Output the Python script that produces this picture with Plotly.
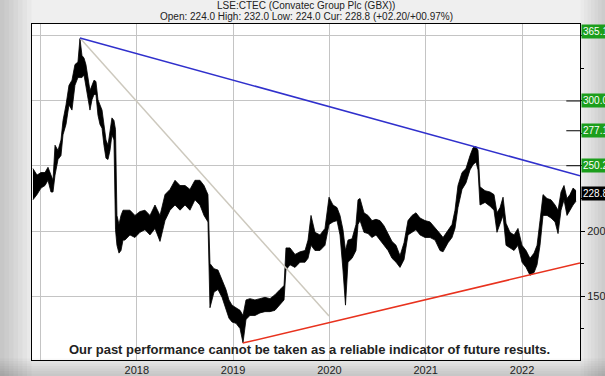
import plotly.graph_objects as go

# ---- data (decimal years, GBX) ----
t = [2016.922, 2016.964, 2017.005, 2017.047, 2017.078, 2017.109, 2017.130, 2017.151, 2017.182, 2017.213,
     2017.234, 2017.265, 2017.296, 2017.327, 2017.358, 2017.389, 2017.410, 2017.431, 2017.452, 2017.472,
     2017.493, 2017.514, 2017.535, 2017.556, 2017.576, 2017.597, 2017.618, 2017.639, 2017.659, 2017.680,
     2017.701, 2017.722, 2017.742, 2017.763, 2017.779, 2017.794, 2017.815, 2017.836, 2017.857, 2017.877,
     2017.929, 2017.981, 2018.033, 2018.085, 2018.137, 2018.189, 2018.241, 2018.293, 2018.345, 2018.397,
     2018.449, 2018.501, 2018.552, 2018.604, 2018.656, 2018.698, 2018.739, 2018.760, 2018.802, 2018.843,
     2018.885, 2018.926, 2018.957, 2018.989, 2019.030, 2019.072, 2019.103, 2019.134, 2019.175, 2019.227,
     2019.279, 2019.331, 2019.383, 2019.435, 2019.487, 2019.529, 2019.549, 2019.591, 2019.643, 2019.695,
     2019.747, 2019.778, 2019.809, 2019.850, 2019.902, 2019.954, 2019.996, 2020.037, 2020.079, 2020.110,
     2020.141, 2020.167, 2020.193, 2020.235, 2020.276, 2020.297, 2020.318, 2020.359, 2020.401, 2020.442,
     2020.484, 2020.525, 2020.567, 2020.609, 2020.650, 2020.692, 2020.733, 2020.775, 2020.816, 2020.858,
     2020.899, 2020.941, 2020.993, 2021.045, 2021.097, 2021.148, 2021.180, 2021.232, 2021.273, 2021.304,
     2021.335, 2021.377, 2021.418, 2021.460, 2021.491, 2021.522, 2021.543, 2021.564, 2021.616, 2021.668,
     2021.709, 2021.740, 2021.772, 2021.803, 2021.834, 2021.875, 2021.917, 2021.958, 2022.000, 2022.042,
     2022.083, 2022.125, 2022.156, 2022.187, 2022.218, 2022.260, 2022.301, 2022.343, 2022.374, 2022.405,
     2022.436, 2022.467, 2022.498, 2022.530, 2022.561]

high = [248, 243, 245, 245, 249, 243, 239, 266, 262, 270,
        285, 297, 312, 316, 328, 330, 348, 335, 333, 328,
        316, 308, 312, 316, 315, 301, 297, 293, 282, 270,
        266, 278, 287, 285, 278, 212, 205, 212, 216, 216,
        216, 212, 215, 216, 212, 220, 212, 228, 232, 239,
        235, 235, 232, 239, 239, 235, 228, 175, 171, 170,
        162, 155, 147, 143, 141, 139, 135, 147, 148, 147,
        148, 149, 148, 151, 155, 158, 187, 187, 182, 184,
        185, 193, 212, 199, 197, 202, 226, 220, 218, 212,
        201, 185, 193, 194, 205, 224, 225, 214, 212, 208,
        209, 208, 204, 198, 192, 189, 181, 191, 208, 212,
        214, 210, 208, 207, 202, 198, 195, 201, 205, 216,
        235, 245, 248, 258, 264, 265, 262, 234, 231, 230,
        228, 214, 218, 226, 206, 199, 197, 202, 189, 185,
        179, 183, 189, 208, 228, 225, 224, 220, 216, 230,
        235, 225, 228, 233, 231]

low = [224, 228, 233, 235, 239, 230, 230, 243, 255, 258,
       274, 282, 297, 293, 312, 318, 318, 318, 320, 312,
       301, 293, 301, 305, 305, 289, 282, 279, 266, 256,
       255, 262, 274, 270, 201, 189, 183, 185, 193, 193,
       197, 195, 199, 201, 197, 202, 192, 208, 216, 220,
       216, 220, 216, 224, 220, 212, 207, 141, 153, 155,
       149, 139, 133, 130, 129, 125, 114, 132, 135, 135,
       137, 138, 138, 139, 143, 147, 170, 174, 172, 176,
       176, 179, 189, 185, 185, 189, 205, 207, 208, 197,
       170, 143, 176, 179, 185, 205, 208, 199, 198, 195,
       197, 193, 189, 185, 179, 176, 172, 178, 197, 199,
       201, 197, 195, 195, 193, 185, 184, 191, 195, 202,
       218, 232, 237, 247, 251, 253, 247, 220, 222, 219,
       216, 199, 205, 212, 189, 187, 185, 189, 176, 172,
       166, 168, 174, 189, 212, 212, 210, 207, 198, 216,
       224, 212, 216, 220, 223]

# trend lines (start/end points)
blue_t = [2017.410, 2022.602]
blue_v = [348.5, 242.5]
grey_t = [2017.410, 2019.996]
grey_v = [348.5, 134.6]
red_t = [2019.100, 2022.602]
red_v = [113.8, 175.4]

# right-hand labels
green_labels = [365.1, 300.0, 277.1, 250.2]
current = 228.8
marker_levels = [300.0, 277.1, 250.2]

year_ticks = [2017, 2018, 2019, 2020, 2021, 2022]
year_text = ["", "2018", "2019", "2020", "2021", "2022"]
price_ticks = [150, 200, 250, 300, 350]
price_text = ["150", "200", "", "", ""]

x_range = [2016.912, 2022.602]
y_range = [100.8, 359.2]

fig = go.Figure()
fig.add_trace(go.Scatter(x=t, y=low, mode="lines", line=dict(color="black", width=0.8),
                         showlegend=False, hoverinfo="skip"))
fig.add_trace(go.Scatter(x=t, y=high, mode="lines", line=dict(color="black", width=0.8),
                         fill="tonexty", fillcolor="black", showlegend=False, hoverinfo="skip"))
fig.add_trace(go.Scatter(x=grey_t, y=grey_v, mode="lines", line=dict(color="#cdc9be", width=1.5),
                         showlegend=False))
fig.add_trace(go.Scatter(x=blue_t, y=blue_v, mode="lines", line=dict(color="#3030cc", width=1.5),
                         showlegend=False))
fig.add_trace(go.Scatter(x=red_t, y=red_v, mode="lines", line=dict(color="#e8321e", width=1.5),
                         showlegend=False))

for v in marker_levels:
    fig.add_shape(type="line", xref="x domain", yref="y", x0=0.975, x1=1.0, y0=v, y1=v,
                  line=dict(color="black", width=1))

# soft grey vignette of the page background
PW, PH = 548.0, 336.0
for i in range(1, 8):
    fig.add_shape(type="rect", xref="paper", yref="paper", layer="below", line_width=0,
                  x0=-32 / PW, x1=(-32 + i * 4.5) / PW, y0=-16 / PH, y1=1 + 24 / PH,
                  fillcolor="rgba(0,0,0,0.025)")
    fig.add_shape(type="rect", xref="paper", yref="paper", layer="below", line_width=0,
                  x0=-32 / PW, x1=1 + 25 / PW, y0=-16 / PH, y1=(-16 + i * 2.5) / PH,
                  fillcolor="rgba(0,0,0,0.025)")
    fig.add_shape(type="rect", xref="paper", yref="paper", layer="below", line_width=0,
                  x0=1 + (25 - i * 3.5) / PW, x1=1 + 25 / PW, y0=-16 / PH, y1=1 + 24 / PH,
                  fillcolor="rgba(0,0,0,0.02)")

lab_font = dict(family="Liberation Sans, Arial, sans-serif", size=10, color="white")
for v in green_labels:
    yv = min(v, y_range[1] - 6)
    fig.add_annotation(xref="paper", yref="y", x=1.0, y=yv, xanchor="left", yanchor="middle",
                       text=f"{v:.1f}", showarrow=False, bgcolor="#1c9e1c", font=lab_font,
                       borderpad=1, xshift=1)
fig.add_annotation(xref="paper", yref="y", x=1.0, y=current, xanchor="left", yanchor="middle",
                   text=f"{current:.1f}", showarrow=False, bgcolor="black", font=lab_font,
                   borderpad=1, xshift=1)

fig.add_annotation(xref="paper", yref="paper", x=0.5, y=1, yanchor="bottom", yshift=11,
                   text="LSE:CTEC (Convatec Group Plc (GBX))", showarrow=False,
                   font=dict(family="Liberation Sans, Arial, sans-serif", size=10, color="#222"))
fig.add_annotation(xref="paper", yref="paper", x=0.5, y=1, yanchor="bottom", yshift=0,
                   text="Open: 224.0 High: 232.0 Low: 224.0 Cur: 228.8 (+02.20/+00.97%)",
                   showarrow=False,
                   font=dict(family="Liberation Sans, Arial, sans-serif", size=10, color="#222"))
fig.add_annotation(xref="paper", yref="paper", x=0.507, y=0, yanchor="bottom", yshift=1,
                   text="<b>Our past performance cannot be taken as a reliable indicator of future results.</b>",
                   showarrow=False,
                   font=dict(family="Liberation Sans, Arial, sans-serif", size=13, color="#222"))

fig.update_layout(
    width=605, height=376,
    margin=dict(l=32, r=25, t=24, b=16, pad=0),
    paper_bgcolor="#efefef", plot_bgcolor="white",
    showlegend=False,
    xaxis=dict(range=x_range, tickvals=year_ticks, ticktext=year_text, showgrid=True,
               automargin=False,
               gridcolor="#c4c4c4", gridwidth=1, zeroline=False, showline=True, linecolor="black",
               linewidth=1, mirror=True, ticks="",
               tickfont=dict(family="Liberation Sans, Arial, sans-serif", size=11, color="#222")),
    yaxis=dict(range=y_range, side="right", tickvals=price_ticks, ticktext=price_text, showgrid=True,
               automargin=False,
               gridcolor="#c4c4c4", gridwidth=1, zeroline=False, showline=True, linecolor="black",
               linewidth=1, mirror=True, ticks="outside", ticklen=4, tickcolor="black",
               minor=dict(tickvals=[125, 175, 225, 275, 325], ticks="outside", ticklen=3,
                          tickcolor="black", showgrid=False),
               tickfont=dict(family="Liberation Sans, Arial, sans-serif", size=11, color="#222")),
)

fig.write_html("out.html", config={"displayModeBar": False},
               post_script="document.body.style.margin='0px';document.body.style.overflow='hidden';")
